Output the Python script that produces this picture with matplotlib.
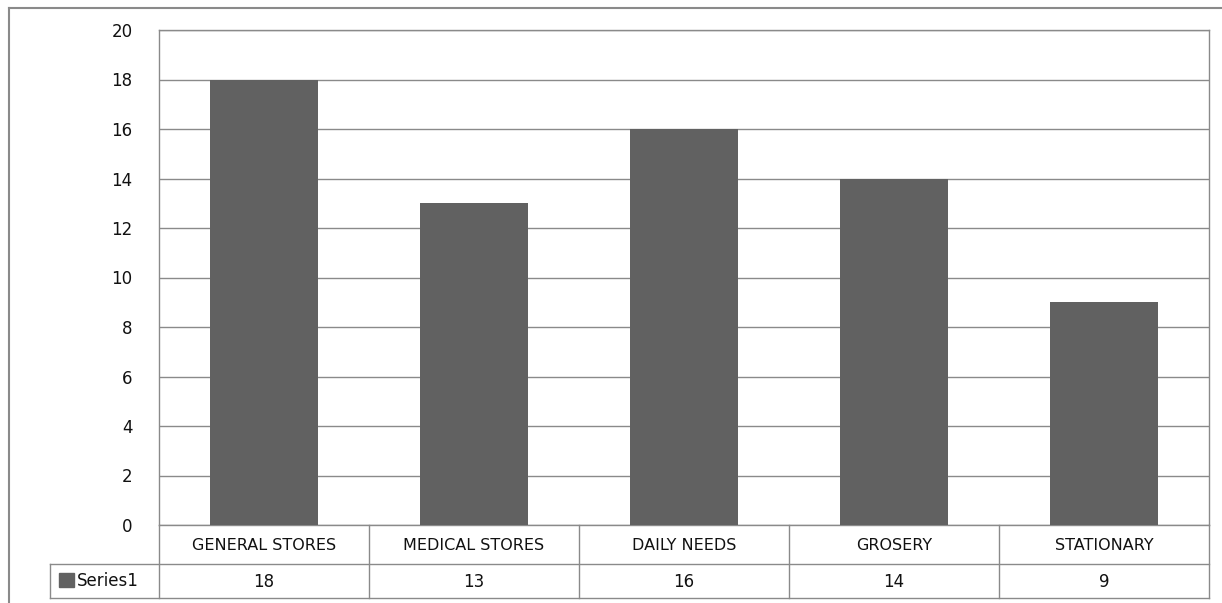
import numpy as np
import matplotlib.pyplot as plt
from matplotlib.lines import Line2D
from matplotlib.patches import Rectangle
import matplotlib.transforms as mtransforms

# data
categories = ["GENERAL STORES", "MEDICAL STORES", "DAILY NEEDS", "GROSERY", "STATIONARY"]
values = [18, 13, 16, 14, 9]
series_name = "Series1"
y_ticks = np.arange(0, 21, 2)

plt.rcParams['font.family'] = ['DejaVu Sans']

W, H = 1222, 603
fig = plt.figure(figsize=(W / 100, H / 100), dpi=100)

# plot area in pixels
left, right, top, bottom = 159, 1209, 30, 525
ax = fig.add_axes([left / W, 1 - bottom / H, (right - left) / W, (bottom - top) / H])

x = np.arange(len(categories))
grid_col = "#8a8a8a"
bar_col = "#616161"
txt_col = "#111111"

ax.bar(x, values, width=0.515, color=bar_col, zorder=3)
ax.set_xlim(-0.5, len(categories) - 0.5)
ax.set_ylim(0, 20)
ax.set_yticks(y_ticks)
ax.set_yticklabels([str(t) for t in y_ticks], fontsize=12, color=txt_col)
ax.tick_params(axis="y", length=0, pad=19)
ax.set_xticks([])
ax.yaxis.grid(True, color=grid_col, linewidth=1.0)
ax.set_axisbelow(True)
for s in ax.spines.values():
    s.set_color(grid_col)
    s.set_linewidth(1.0)

# data table below the axis
trans = mtransforms.blended_transform_factory(ax.transData, ax.transAxes)
unit_px = (right - left) / len(categories)
ax_h = bottom - top
y_mid = -(564 - bottom) / ax_h
y_bot = -(598 - bottom) / ax_h
x_lab = -0.5 - (left - 50) / unit_px

line_kw = dict(color=grid_col, linewidth=1.0, transform=trans, clip_on=False)
for i in range(len(categories) + 1):
    ax.add_line(Line2D([i - 0.5, i - 0.5], [0, y_bot], **line_kw))
ax.add_line(Line2D([x_lab, 4.5], [y_mid, y_mid], **line_kw))
ax.add_line(Line2D([x_lab, 4.5], [y_bot, y_bot], **line_kw))
ax.add_line(Line2D([x_lab, x_lab], [y_mid, y_bot], **line_kw))

for i, (c, v) in enumerate(zip(categories, values)):
    ax.text(i, -(546 - bottom) / ax_h, c, transform=trans, ha="center", va="center",
            fontsize=11.5, color=txt_col)
    ax.text(i, -(582 - bottom) / ax_h, str(v), transform=trans, ha="center", va="center",
            fontsize=12, color=txt_col)

# legend key + series name
ax.add_patch(Rectangle((x_lab + 9 / unit_px, -(587 - bottom) / ax_h), 15 / unit_px, 14 / ax_h,
                       transform=trans, color=bar_col, clip_on=False))
ax.text(x_lab + 27 / unit_px, -(581 - bottom) / ax_h, series_name, transform=trans,
        ha="left", va="center", fontsize=12, color=txt_col)

# outer chart border
fig.add_artist(Line2D([9 / W, 1], [1 - 8 / H, 1 - 8 / H], color="#8a8a8a", linewidth=1.5,
                      transform=fig.transFigure))
fig.add_artist(Line2D([9 / W, 9 / W], [0, 1 - 8 / H], color="#8a8a8a", linewidth=1.5,
                      transform=fig.transFigure))

fig.savefig("out.png", dpi=100)
